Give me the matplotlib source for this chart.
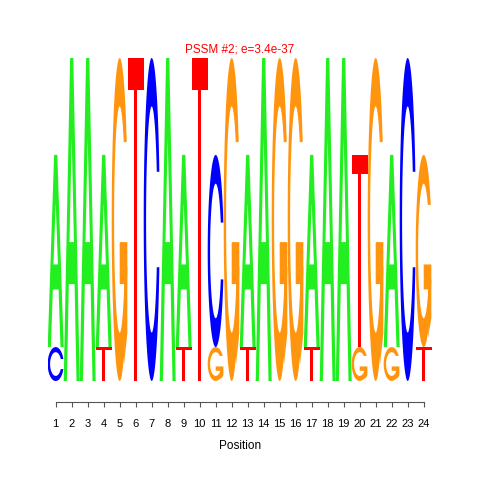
import numpy as np
import matplotlib
matplotlib.use("Agg")
import matplotlib.pyplot as plt
from matplotlib.patches import Polygon

# высоты букв (биты) по позициям 1..24
positions = list(range(1, 25))
A_bits = [1.19, 2.0, 2.0, 1.19, 0, 0, 0, 2.0, 1.19, 0, 0, 0,
          1.19, 2.0, 0, 0, 1.19, 2.0, 2.0, 0, 0, 1.19, 0, 0]
C_bits = [0.21, 0, 0, 0, 0, 0, 2.0, 0, 0, 0, 1.19, 0,
          0, 0, 0, 0, 0, 0, 0, 0, 0, 0, 2.0, 0]
G_bits = [0, 0, 0, 0, 2.0, 0, 0, 0, 0, 0, 0.21, 2.0,
          0, 0, 2.0, 2.0, 0, 0, 0, 0.21, 2.0, 0.21, 0, 1.19]
T_bits = [0, 0, 0, 0.21, 0, 2.0, 0, 0, 0.21, 2.0, 0, 0,
          0.21, 0, 0, 0, 0.21, 0, 0, 1.19, 0, 0, 0, 0.21]
title = "PSSM #2; e=3.4e-37"

colors = {"A": "#22EE22", "C": "#0000FF", "G": "#FF950E", "T": "#FF0000"}


# формы букв (единичный квадрат)
def shape_A():
    outer = np.array([[0, 0], [4, 10], [6, 10], [10, 0], [8, 0], [6.8, 3],
                      [3.2, 3], [2, 0]]) * 0.1
    inner = np.array([[3.6, 4.3], [5, 7.5], [6.4, 4.3]]) * 0.1
    return [(outer, None), (inner, "white")]


def shape_T():
    p = np.array([[0, 10], [10, 10], [10, 9], [6, 9], [6, 0], [4, 0],
                  [4, 9], [0, 9]]) * 0.1
    return [(p, None)]


def ring(bot=0.3, top=0.3):
    # внешняя дуга: от нижнего правого конца через низ и левый край к верхнему
    t = np.linspace(-bot, -(2 * np.pi - top), 300)
    outer = np.column_stack([0.5 + 0.5 * np.cos(t), 0.5 + 0.5 * np.sin(t)])
    t_lo = np.arcsin(0.5 * np.sin(bot) / 0.35)
    t_hi = np.arcsin(0.5 * np.sin(top) / 0.35)
    ti = np.linspace(-(2 * np.pi - t_hi), -t_lo, 300)
    inner = np.column_stack([0.5 + 0.35 * np.cos(ti), 0.5 + 0.35 * np.sin(ti)])
    inner[0, 1] = outer[-1, 1]
    inner[-1, 1] = outer[0, 1]
    return np.vstack([outer, inner]), 0.5 + 0.5 * np.cos(bot)


def shape_C():
    p, _ = ring()
    return [(p, None)]


def shape_G():
    p, r1 = ring(0.3, 0.5)
    h1 = 0.43
    add = np.array([[r1, h1], [0.5, h1], [0.5, h1 - 0.13], [r1 - 0.2, h1 - 0.13],
                    [r1 - 0.2, 0.05], [r1, 0.15], [r1, h1]])
    return [(p, None), (add, None)]


shapes = {"A": shape_A(), "C": shape_C(), "G": shape_G(), "T": shape_T()}

fig = plt.figure(figsize=(4.8, 4.8), dpi=100)
ax = fig.add_axes([47.7 / 480, 99 / 480, 384 / 480, 323 / 480])

for i, pos in enumerate(positions):
    col = {"A": A_bits[i], "C": C_bits[i], "G": G_bits[i], "T": T_bits[i]}
    base = 0.0
    for letter, h in sorted(col.items(), key=lambda kv: kv[1]):
        if h <= 0:
            continue
        for pts, fc in shapes[letter]:
            xy = np.column_stack([pos - 0.5 + pts[:, 0], base + pts[:, 1] * h])
            ax.add_patch(Polygon(xy, closed=True, lw=0,
                                 fc=fc if fc else colors[letter]))
        base += h

ax.set_xlim(0.5, 24.5)
ax.set_ylim(0, 2)
for s in ["left", "top", "right"]:
    ax.spines[s].set_visible(False)
ax.spines["bottom"].set_position(("outward", 15))
ax.spines["bottom"].set_bounds(1, 24)
ax.spines["bottom"].set_color("#555555")
ax.set_yticks([])
ax.set_xticks(positions)
ax.set_xticklabels([str(p) for p in positions], fontsize=8, family="Liberation Sans")
ax.tick_params(axis="x", length=3.6, color="#555555", pad=9)

fig.text(0.5, 1 - 50 / 480, title, color="red", fontsize=8.5,
         family="Liberation Sans", ha="center", va="center")
fig.text(240 / 480, 1 - 446 / 480, "Position", fontsize=8.5,
         family="Liberation Sans", ha="center", va="center")

fig.savefig("out.png", dpi=100)
